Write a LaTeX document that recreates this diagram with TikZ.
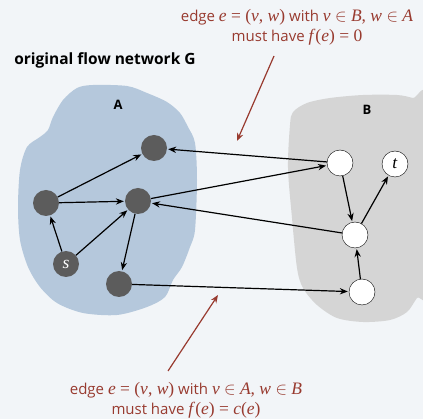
\documentclass[tikz,border=0pt]{standalone}
\usepackage{fontspec}
\setmainfont{Open Sans}
\newfontfamily\serifmath{Liberation Serif}
\usepackage{tikz}
\usetikzlibrary{arrows.meta, positioning}

\definecolor{bgcol}{HTML}{F2F5F8}
\definecolor{regionA}{HTML}{B5C8DC}
\definecolor{regionB}{HTML}{D5D5D5}
\definecolor{vtxfill}{HTML}{5C5C5C}
\definecolor{notered}{HTML}{983A2F}

% serif text for the formulas in the notes
\newcommand{\fm}[1]{{\serifmath\fontsize{17.5}{20}\selectfont #1}}
\newcommand{\vi}[1]{\textit{#1}}

\begin{document}
\begin{tikzpicture}[
    x=1pt, y=-1pt,
    every node/.style={color=black, font=\fontsize{12}{15}\selectfont},
    filled/.style={circle, fill=vtxfill, minimum size=26pt, inner sep=0pt},
    hollow/.style={circle, draw, fill=white, thin, minimum size=26pt, inner sep=0pt},
    setlabel/.style={font=\fontsize{13}{15}\selectfont\bfseries},
    note/.style={align=center, color=notered, font=\fontsize{15}{20}\selectfont},
    arrow/.style={-{Stealth[length=2.8mm, width=2.2mm]}, color=black, line width=1.2pt, shorten >=1pt},
    pointer/.style={-{Stealth[length=2.8mm, width=2.2mm]}, color=notered, line width=1.2pt}
]

% --- Background and canvas ---
\useasboundingbox (0,0) rectangle (423,419);
\fill[bgcol] (0,0) rectangle (423,419);
\clip (0,0) rectangle (423,419);

% --- Regions A and B ---
\fill[regionA] plot[smooth cycle, tension=0.5] coordinates {
    (77,88) (93,85) (127,86) (147,93) (167,102) (180,113) (188,127)
    (195,143) (197,180) (195,230) (190,247) (182,267) (173,280) (165,297)
    (147,307) (117,315) (83,313) (57,303) (40,287) (28,267) (20,240)
    (18,207) (20,170) (27,147) (40,137) (48,130) (53,117) (63,100)};
\fill[regionB] plot[smooth cycle, tension=0.5] coordinates {
    (293,112) (307,103) (330,98) (363,95) (397,95) (413,98) (428,102)
    (428,285) (417,298) (407,312) (390,320) (363,322) (337,318) (317,305)
    (303,288) (297,268) (292,218) (288,168) (290,125)};

\node[setlabel] (lblA) at (118,105) {A};
\node[setlabel] (lblB) at (367,110) {B};
\node[font=\fontsize{15.5}{18}\selectfont\bfseries] (title) at (105,60) {original flow network G};

% --- Vertices in A ---
\node[filled] (a1) at (154,148) {};
\node[filled] (a2) at (46,203) {};
\node[filled] (a3) at (138,201) {};
\node[filled] (s)  at (66,264) {\color{white}\fm{\vi{s}}};
\node[filled] (a4) at (119,284) {};

% --- Vertices in B ---
\node[hollow] (b1) at (340,163) {};
\node[hollow] (t)  at (395,164) {\fm{\vi{t}}};
\node[hollow] (b2) at (355,235) {};
\node[hollow] (b3) at (362,292) {};

% --- Edges inside A ---
\draw[arrow] (a2) -- (a1);
\draw[arrow] (a2) -- (a3);
\draw[arrow] (s) -- (a2);
\draw[arrow] (s) -- (a3);
\draw[arrow] (a3) -- (a4);

% --- Edges across the cut ---
\draw[arrow] (b1) -- (a1);
\draw[arrow] (a3) -- (b1);
\draw[arrow] (b2) -- (a3);
\draw[arrow] (a4) -- (b3);

% --- Edges inside B ---
\draw[arrow] (b1) -- (b2);
\draw[arrow] (b2) -- (t);
\draw[arrow] (b3) -- (b2);

% --- Annotations ---
\node[note] (noteBA) at (297,27)
    {edge \fm{\vi{e} = (\vi{v}, \vi{w})} with \fm{\vi{v} $\in$ \vi{B}, \vi{w} $\in$ \vi{A}}\\
     must have \fm{\vi{f}(\vi{e}) = 0}};
\coordinate (tailBA) at (274,56);
\coordinate (tipBA) at (237,141);
\draw[pointer] (tailBA) -- (tipBA);

\node[note] (noteAB) at (186,400)
    {edge \fm{\vi{e} = (\vi{v}, \vi{w})} with \fm{\vi{v} $\in$ \vi{A}, \vi{w} $\in$ \vi{B}}\\
     must have \fm{\vi{f}(\vi{e}) = \vi{c}(\vi{e})}};
\coordinate (tailAB) at (168,371);
\coordinate (tipAB) at (218,295);
\draw[pointer] (tailAB) -- (tipAB);

\end{tikzpicture}
\end{document}
